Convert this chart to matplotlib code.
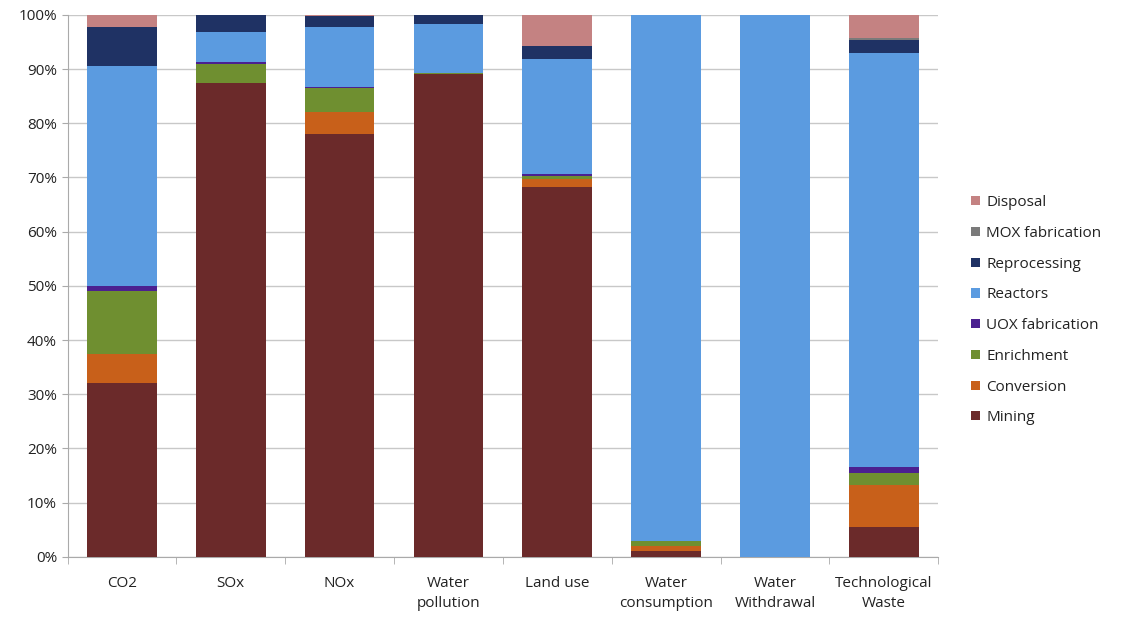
import numpy as np
from matplotlib import pyplot as plt
from matplotlib.ticker import FixedLocator, PercentFormatter

plt.rcParams['font.family'] = ['Open Sans', 'DejaVu Sans']

categories = ['CO2', 'SOx', 'NOx', 'Water\npollution', 'Land use',
              'Water\nconsumption', 'Water\nWithdrawal', 'Technological\nWaste']

# shares in percent, one list per stage (bottom to top)
mining       = [32.0, 87.5, 78.0, 89.0, 68.3, 1.0, 0.0, 5.5]
conversion   = [5.5, 0.0, 4.0, 0.0, 1.5, 1.0, 0.0, 7.8]
enrichment   = [11.5, 3.5, 4.5, 0.3, 0.5, 1.0, 0.0, 2.2]
uox_fab      = [1.0, 0.3, 0.2, 0.0, 0.3, 0.0, 0.0, 1.0]
reactors     = [40.5, 5.5, 11.0, 9.0, 21.2, 97.0, 100.0, 76.4]
reprocessing = [7.2, 3.2, 2.0, 1.7, 2.4, 0.0, 0.0, 2.5]
mox_fab      = [0.0, 0.0, 0.0, 0.0, 0.0, 0.0, 0.0, 0.3]
disposal     = [2.3, 0.0, 0.3, 0.0, 5.8, 0.0, 0.0, 4.3]

series = [('Mining', mining, '#6b2a2a'),
          ('Conversion', conversion, '#c8601a'),
          ('Enrichment', enrichment, '#6f8f30'),
          ('UOX fabrication', uox_fab, '#4b2090'),
          ('Reactors', reactors, '#5b9be0'),
          ('Reprocessing', reprocessing, '#1f3264'),
          ('MOX fabrication', mox_fab, '#7a7a7a'),
          ('Disposal', disposal, '#c48282')]

fig = plt.figure(figsize=(11.25, 6.18), dpi=100)
ax = fig.add_axes([0.06, 0.099, 0.774, 0.877])

x = np.arange(len(categories))
bottom = np.zeros(len(categories))
handles = []
for name, vals, col in series:
    v = np.array(vals)
    b = ax.bar(x, v, 0.64, bottom=bottom, color=col, label=name, zorder=3)
    handles.append(b)
    bottom += v

ax.set_xlim(-0.5, len(categories) - 0.5)
ax.set_ylim(0, 100)
ax.yaxis.set_major_locator(FixedLocator(np.arange(0, 101, 10)))
ax.yaxis.set_major_formatter(PercentFormatter(decimals=0))
ax.grid(axis='y', color='#c8c8c8', linewidth=1, zorder=0)

ax.set_xticks(x)
ax.set_xticklabels(categories, fontsize=11, color='#222222', linespacing=1.45)
ax.xaxis.set_minor_locator(FixedLocator(np.arange(-0.5, len(categories), 1)))
ax.tick_params(axis='x', which='major', length=0, pad=14)
ax.tick_params(axis='x', which='minor', length=5, color='#aaaaaa')
ax.tick_params(axis='y', length=4, color='#aaaaaa', labelsize=11, labelcolor='#222222')

for s in ['top', 'right']:
    ax.spines[s].set_visible(False)
ax.spines['left'].set_color('#aaaaaa')
ax.spines['bottom'].set_color('#aaaaaa')

leg = ax.legend(handles[::-1], [s[0] for s in series][::-1],
                loc='center left', bbox_to_anchor=(1.022, 0.455), frameon=False,
                fontsize=11, handlelength=0.55, handleheight=0.55,
                handletextpad=0.45, labelspacing=1.03)
for t in leg.get_texts():
    t.set_color('#222222')

plt.savefig('out.png', dpi=100)
